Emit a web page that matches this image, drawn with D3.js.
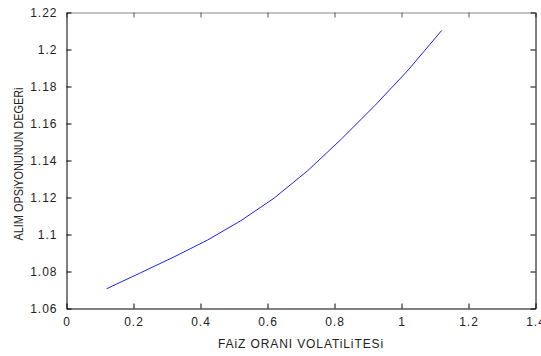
<!DOCTYPE html>
<html><head><meta charset="utf-8">
<script src="https://cdn.jsdelivr.net/npm/d3@7"></script>
<style>
body{margin:0;background:#fff;}
svg{display:block;}
text{font-family:"Liberation Sans",Arial,sans-serif;fill:#222;}
</style></head>
<body>
<script>
const volatility = [0.12, 0.22, 0.32, 0.42, 0.52, 0.62, 0.72, 0.82, 0.92, 1.02, 1.12];
const optionValue = [1.0707, 1.0792, 1.0878, 1.0969, 1.1074, 1.1197, 1.1345, 1.1515, 1.1696, 1.1889, 1.2103];
const xTicks = [0, 0.2, 0.4, 0.6, 0.8, 1, 1.2, 1.4];
const yTicks = [1.06, 1.08, 1.1, 1.12, 1.14, 1.16, 1.18, 1.2, 1.22];
const xTitle = "FAiZ ORANI VOLATiLiTESi";
const yTitle = "ALIM OPSiYONUNUN DEGERi";

const W = 541, H = 356;
const L = 66.5, R = 535.5, T = 12.5, B = 308.5;
const svg = d3.select("body").append("svg").attr("width", W).attr("height", H);
const x = d3.scaleLinear().domain([0, 1.4]).range([L, R]);
const y = d3.scaleLinear().domain([1.06, 1.22]).range([B, T]);
const fmt = d => String(+d.toFixed(2));

// bottom axis
const gb = svg.append("g").attr("transform", `translate(0,${B})`)
  .call(d3.axisBottom(x).tickValues(xTicks).tickFormat(fmt).tickSizeInner(-5).tickSizeOuter(0).tickPadding(9));
// top axis
const gt = svg.append("g").attr("transform", `translate(0,${T})`)
  .call(d3.axisTop(x).tickValues(xTicks).tickFormat("").tickSizeInner(-5).tickSizeOuter(0));
// left axis
const gl = svg.append("g").attr("transform", `translate(${L},0)`)
  .call(d3.axisLeft(y).tickValues(yTicks).tickFormat(fmt).tickSizeInner(-5).tickSizeOuter(0).tickPadding(9));
// right axis
const gr = svg.append("g").attr("transform", `translate(${R},0)`)
  .call(d3.axisRight(y).tickValues(yTicks).tickFormat("").tickSizeInner(-5).tickSizeOuter(0));

svg.selectAll(".domain").attr("stroke", "#000");
svg.selectAll(".tick line").attr("stroke", "#000");
gt.select(".domain").attr("stroke", "#888");
gt.selectAll(".tick line").attr("stroke", "#555");
svg.selectAll(".tick text").style("font-size", "12px").style("letter-spacing", "1px").attr("fill", "#222");
gb.selectAll(".tick text").attr("dy", "0.71em");

// line
svg.append("path")
  .datum(volatility.map((v, i) => [v, optionValue[i]]))
  .attr("fill", "none").attr("stroke", "#2020ff").attr("stroke-width", 1)
  .attr("d", d3.line().x(d => x(d[0])).y(d => y(d[1])));

// titles
svg.append("text").attr("x", (L + R) / 2).attr("y", 348)
  .attr("text-anchor", "middle").style("font-size", "12px").style("letter-spacing", "0.9px")
  .text(xTitle);
svg.append("text").attr("transform", `translate(22.5,164) rotate(-90)`)
  .attr("text-anchor", "middle").style("font-size", "12px")
  .attr("textLength", 153).attr("lengthAdjust", "spacingAndGlyphs")
  .text(yTitle);
</script>
</body></html>
